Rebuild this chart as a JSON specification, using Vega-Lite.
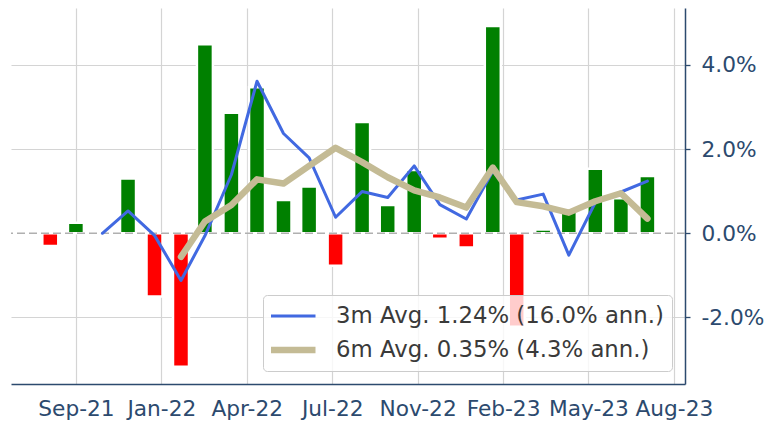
{
  "$schema": "https://vega.github.io/schema/vega-lite/v6.json",
  "width": 674,
  "height": 376,
  "padding": {"left": 10, "top": 8, "right": 0, "bottom": 0},
  "autosize": {"type": "pad"},
  "config": {
    "view": {"stroke": null},
    "font": "DejaVu Sans"
  },
  "datasets": {
    "monthly": [
      {"date": "2021-08-31", "change": -0.30},
      {"date": "2021-09-30", "change": 0.25},
      {"date": "2021-10-31", "change": 0.05},
      {"date": "2021-11-30", "change": 1.30},
      {"date": "2021-12-31", "change": -1.50},
      {"date": "2022-01-31", "change": -3.17},
      {"date": "2022-02-28", "change": 4.49},
      {"date": "2022-03-31", "change": 2.86},
      {"date": "2022-04-30", "change": 3.47},
      {"date": "2022-05-31", "change": 0.79},
      {"date": "2022-06-30", "change": 1.11},
      {"date": "2022-07-31", "change": -0.77},
      {"date": "2022-08-31", "change": 2.64},
      {"date": "2022-09-30", "change": 0.67},
      {"date": "2022-10-31", "change": 1.50},
      {"date": "2022-11-30", "change": -0.13},
      {"date": "2022-12-31", "change": -0.34},
      {"date": "2023-01-31", "change": 4.92},
      {"date": "2023-02-28", "change": -2.22},
      {"date": "2023-03-31", "change": 0.09},
      {"date": "2023-04-30", "change": 0.57},
      {"date": "2023-05-31", "change": 1.53},
      {"date": "2023-06-30", "change": 0.83},
      {"date": "2023-07-31", "change": 1.36}
    ],
    "averages": [
      {"date": "2021-10-31", "series": "3m Avg. 1.24% (16.0% ann.)", "avg": 0.00},
      {"date": "2021-11-30", "series": "3m Avg. 1.24% (16.0% ann.)", "avg": 0.53},
      {"date": "2021-12-31", "series": "3m Avg. 1.24% (16.0% ann.)", "avg": -0.05},
      {"date": "2022-01-31", "series": "3m Avg. 1.24% (16.0% ann.)", "avg": -1.12},
      {"date": "2022-02-28", "series": "3m Avg. 1.24% (16.0% ann.)", "avg": -0.06},
      {"date": "2022-03-31", "series": "3m Avg. 1.24% (16.0% ann.)", "avg": 1.39},
      {"date": "2022-04-30", "series": "3m Avg. 1.24% (16.0% ann.)", "avg": 3.61},
      {"date": "2022-05-31", "series": "3m Avg. 1.24% (16.0% ann.)", "avg": 2.37},
      {"date": "2022-06-30", "series": "3m Avg. 1.24% (16.0% ann.)", "avg": 1.79},
      {"date": "2022-07-31", "series": "3m Avg. 1.24% (16.0% ann.)", "avg": 0.38},
      {"date": "2022-08-31", "series": "3m Avg. 1.24% (16.0% ann.)", "avg": 0.99},
      {"date": "2022-09-30", "series": "3m Avg. 1.24% (16.0% ann.)", "avg": 0.85},
      {"date": "2022-10-31", "series": "3m Avg. 1.24% (16.0% ann.)", "avg": 1.60},
      {"date": "2022-11-30", "series": "3m Avg. 1.24% (16.0% ann.)", "avg": 0.68},
      {"date": "2022-12-31", "series": "3m Avg. 1.24% (16.0% ann.)", "avg": 0.34},
      {"date": "2023-01-31", "series": "3m Avg. 1.24% (16.0% ann.)", "avg": 1.48},
      {"date": "2023-02-28", "series": "3m Avg. 1.24% (16.0% ann.)", "avg": 0.79},
      {"date": "2023-03-31", "series": "3m Avg. 1.24% (16.0% ann.)", "avg": 0.93},
      {"date": "2023-04-30", "series": "3m Avg. 1.24% (16.0% ann.)", "avg": -0.52},
      {"date": "2023-05-31", "series": "3m Avg. 1.24% (16.0% ann.)", "avg": 0.73},
      {"date": "2023-06-30", "series": "3m Avg. 1.24% (16.0% ann.)", "avg": 0.98},
      {"date": "2023-07-31", "series": "3m Avg. 1.24% (16.0% ann.)", "avg": 1.24},
      {"date": "2022-01-31", "series": "6m Avg. 0.35% (4.3% ann.)", "avg": -0.56},
      {"date": "2022-02-28", "series": "6m Avg. 0.35% (4.3% ann.)", "avg": 0.28},
      {"date": "2022-03-31", "series": "6m Avg. 0.35% (4.3% ann.)", "avg": 0.67},
      {"date": "2022-04-30", "series": "6m Avg. 0.35% (4.3% ann.)", "avg": 1.28},
      {"date": "2022-05-31", "series": "6m Avg. 0.35% (4.3% ann.)", "avg": 1.18},
      {"date": "2022-06-30", "series": "6m Avg. 0.35% (4.3% ann.)", "avg": 1.60},
      {"date": "2022-07-31", "series": "6m Avg. 0.35% (4.3% ann.)", "avg": 2.03},
      {"date": "2022-08-31", "series": "6m Avg. 0.35% (4.3% ann.)", "avg": 1.69},
      {"date": "2022-09-30", "series": "6m Avg. 0.35% (4.3% ann.)", "avg": 1.33},
      {"date": "2022-10-31", "series": "6m Avg. 0.35% (4.3% ann.)", "avg": 1.02},
      {"date": "2022-11-30", "series": "6m Avg. 0.35% (4.3% ann.)", "avg": 0.85},
      {"date": "2022-12-31", "series": "6m Avg. 0.35% (4.3% ann.)", "avg": 0.61},
      {"date": "2023-01-31", "series": "6m Avg. 0.35% (4.3% ann.)", "avg": 1.56},
      {"date": "2023-02-28", "series": "6m Avg. 0.35% (4.3% ann.)", "avg": 0.74},
      {"date": "2023-03-31", "series": "6m Avg. 0.35% (4.3% ann.)", "avg": 0.64},
      {"date": "2023-04-30", "series": "6m Avg. 0.35% (4.3% ann.)", "avg": 0.49},
      {"date": "2023-05-31", "series": "6m Avg. 0.35% (4.3% ann.)", "avg": 0.76},
      {"date": "2023-06-30", "series": "6m Avg. 0.35% (4.3% ann.)", "avg": 0.95},
      {"date": "2023-07-31", "series": "6m Avg. 0.35% (4.3% ann.)", "avg": 0.35}
    ]
  },
  "encoding": {
    "x": {
      "field": "date",
      "type": "temporal",
      "title": null,
      "scale": {
        "domain": [{"year": 2021, "month": "Jul", "date": 16}, {"year": 2023, "month": "Sep", "date": 13}],
        "nice": false,
        "padding": 0
      },
      "axis": {
        "values": [
          {"year": 2021, "month": "Sep", "date": 30},
          {"year": 2022, "month": "Jan", "date": 8},
          {"year": 2022, "month": "Apr", "date": 18},
          {"year": 2022, "month": "Jul", "date": 27},
          {"year": 2022, "month": "Nov", "date": 4},
          {"year": 2023, "month": "Feb", "date": 12},
          {"year": 2023, "month": "May", "date": 23},
          {"year": 2023, "month": "Aug", "date": 31}
        ],
        "format": "%b-%y",
        "domainColor": "#2c4a6e",
        "domainWidth": 1.5,
        "ticks": false,
        "labelFont": "DejaVu Sans",
        "labelFontSize": 21.7,
        "labelColor": "#2c4a6e",
        "labelPadding": 14,
        "labelFlush": false,
        "labelOverlap": false,
        "grid": true,
        "gridColor": "#d4d4d4",
        "gridWidth": 1.2
      }
    }
  },
  "layer": [
    {
      "data": {"name": "monthly"},
      "mark": {"type": "bar", "size": 16, "stroke": "white", "strokeWidth": 2.5},
      "encoding": {
        "y": {
          "field": "change",
          "type": "quantitative",
          "title": null,
          "scale": {"domain": [-3.58, 5.35], "nice": false, "zero": false},
          "axis": {
            "orient": "right",
            "values": [-2, 0, 2, 4],
            "labelExpr": "(datum.value < 0 ? '-' : '') + format(abs(datum.value), '.1f') + '%'",
            "domainColor": "#2c4a6e",
            "domainWidth": 1.5,
            "tickColor": "#2c4a6e",
            "tickSize": 5,
            "tickWidth": 1.3,
            "labelFont": "DejaVu Sans",
            "labelFontSize": 21.7,
            "labelColor": "#2c4a6e",
            "labelPadding": 11,
            "grid": true,
            "gridColor": "#d4d4d4",
            "gridWidth": 1.2,
            "gridOpacity": {"condition": {"test": "datum.value === 0", "value": 0}, "value": 1}
          }
        },
        "color": {
          "condition": {"test": "datum.change >= 0", "value": "#008000"},
          "value": "#ff0000"
        }
      }
    },
    {
      "data": {"values": [{}]},
      "mark": {"type": "rule", "color": "#b0b0b0", "strokeDash": [8, 4], "strokeWidth": 1.5},
      "encoding": {
        "x": null,
        "y": {"datum": 0, "type": "quantitative"}
      }
    },
    {
      "data": {"name": "averages"},
      "mark": {"type": "line", "strokeCap": "round", "strokeJoin": "round"},
      "encoding": {
        "y": {"field": "avg", "type": "quantitative"},
        "color": {
          "field": "series",
          "type": "nominal",
          "scale": {
            "domain": ["3m Avg. 1.24% (16.0% ann.)", "6m Avg. 0.35% (4.3% ann.)"],
            "range": ["#4169e1", "#c4bb95"]
          },
          "legend": {
            "orient": "none",
            "legendX": 252,
            "legendY": 287,
            "title": null,
            "symbolType": "stroke",
            "symbolSize": 2401,
            "symbolOffset": -8,
            "clipHeight": 26,
            "rowPadding": 8,
            "padding": 8,
            "labelFont": "DejaVu Sans",
            "labelFontSize": 22.8,
            "labelColor": "#3a3a3a",
            "labelLimit": 500,
            "labelOffset": 17,
            "fillColor": "rgba(255,255,255,0.8)",
            "strokeColor": "#cccccc",
            "cornerRadius": 4,
            "zindex": 1
          }
        },
        "strokeWidth": {
          "field": "series",
          "type": "nominal",
          "scale": {
            "domain": ["3m Avg. 1.24% (16.0% ann.)", "6m Avg. 0.35% (4.3% ann.)"],
            "range": [3, 6.5]
          },
          "legend": {
            "orient": "none",
            "legendX": 252,
            "legendY": 287,
            "title": null,
            "symbolType": "stroke",
            "symbolSize": 2401,
            "symbolOffset": -8,
            "clipHeight": 26,
            "rowPadding": 8,
            "padding": 8,
            "labelFont": "DejaVu Sans",
            "labelFontSize": 22.8,
            "labelColor": "#3a3a3a",
            "labelLimit": 500,
            "labelOffset": 17,
            "fillColor": "rgba(255,255,255,0.8)",
            "strokeColor": "#cccccc",
            "cornerRadius": 4,
            "zindex": 1
          }
        }
      }
    }
  ]
}
